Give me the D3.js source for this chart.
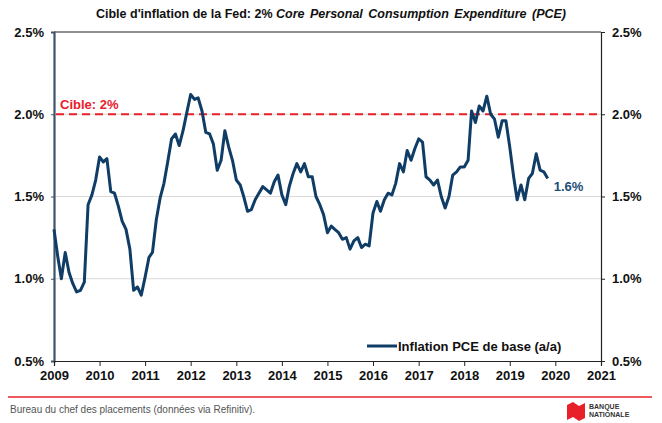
<!DOCTYPE html>
<html>
<head>
<meta charset="utf-8">
<script src="https://cdn.jsdelivr.net/npm/d3@7"></script>
<style>
  body { margin: 0; background: #fff; }
  svg { display: block; font-family: "Liberation Sans", Arial, sans-serif; }
</style>
</head>
<body>
<svg id="chart" width="662" height="423"></svg>
<script>
// Core PCE, a/a %, monthly from Jan 2009
const startMonth = new Date(2009, 0, 1);
const pce = [
  1.30, 1.13, 1.00, 1.16, 1.04, 0.97, 0.92, 0.93, 0.98, 1.45, 1.51, 1.60,
  1.74, 1.71, 1.73, 1.53, 1.52, 1.44, 1.35, 1.30, 1.18, 0.93, 0.95, 0.90,
  1.01, 1.13, 1.16, 1.36, 1.49, 1.58, 1.71, 1.85, 1.88, 1.81, 1.90, 2.01,
  2.12, 2.09, 2.10, 2.02, 1.89, 1.88, 1.82, 1.66, 1.72, 1.90, 1.80, 1.72,
  1.60, 1.57, 1.50, 1.41, 1.42, 1.48, 1.52, 1.56, 1.54, 1.52, 1.59, 1.63,
  1.51, 1.45, 1.56, 1.64, 1.70, 1.65, 1.70, 1.62, 1.62, 1.50, 1.45, 1.39,
  1.28, 1.32, 1.30, 1.28, 1.24, 1.25, 1.18, 1.23, 1.25, 1.19, 1.21, 1.20,
  1.40, 1.47, 1.41, 1.48, 1.52, 1.51, 1.58, 1.70, 1.65, 1.78, 1.72, 1.79,
  1.85, 1.83, 1.62, 1.60, 1.57, 1.60, 1.50, 1.43, 1.50, 1.63, 1.65, 1.68,
  1.68, 1.72, 2.02, 1.95, 2.05, 2.02, 2.11, 2.00, 1.97, 1.86, 1.96, 1.96,
  1.80, 1.62, 1.48, 1.57, 1.48, 1.61, 1.64, 1.76, 1.66, 1.65, 1.61
];
const yearTicks = d3.range(2009, 2022);
const yTicks = [0.5, 1.0, 1.5, 2.0, 2.5];
const target = 2.0;

const svg = d3.select("#chart");
const mLeft = 54, mRight = 601, mTop = 32, mBottom = 361;

const x = d3.scaleTime()
  .domain([new Date(2009, 0, 1), new Date(2021, 0, 1)])
  .range([mLeft, mRight]);
const y = d3.scaleLinear().domain([0.5, 2.5]).range([mBottom, mTop]);

const data = pce.map((v, i) => ({ date: d3.timeMonth.offset(startMonth, i), v }));

// title
const title = svg.append("text")
  .attr("x", 331).attr("y", 18)
  .attr("text-anchor", "middle")
  .attr("font-size", 12.5).attr("font-weight", "bold").attr("fill", "#111");
title.append("tspan").text("Cible d'inflation de la Fed: 2% ");
title.append("tspan").attr("font-style", "italic").attr("word-spacing", 2)
  .text("Core Personal Consumption Expenditure (PCE)");

// gridlines
svg.append("g").selectAll("line")
  .data(yTicks.filter(d => d > 0.5 && d < 2.5))
  .join("line")
  .attr("x1", mLeft).attr("x2", mRight)
  .attr("y1", d => y(d)).attr("y2", d => y(d))
  .attr("stroke", "#d9d9d9").attr("stroke-width", 1);

// frame top
svg.append("line")
  .attr("x1", mLeft).attr("x2", mRight).attr("y1", mTop).attr("y2", mTop)
  .attr("stroke", "#222").attr("stroke-width", 1.2);

const fmt = d => d.toFixed(1) + "%";

// left axis
const gL = svg.append("g").attr("transform", `translate(${mLeft},0)`)
  .call(d3.axisLeft(y).tickValues(yTicks).tickFormat(fmt).tickSize(3).tickPadding(7));
gL.select(".domain").attr("stroke", "#3e5469").attr("stroke-width", 2.2);
gL.selectAll(".tick line").attr("stroke", "#3e5469");

// right axis
const gR = svg.append("g").attr("transform", `translate(${mRight},0)`)
  .call(d3.axisRight(y).tickValues(yTicks).tickFormat(fmt).tickSize(4).tickPadding(7));
gR.select(".domain").attr("stroke", "#222").attr("stroke-width", 1.2);
gR.selectAll(".tick line").attr("stroke", "#222");

// bottom axis
const gB = svg.append("g").attr("transform", `translate(0,${mBottom})`)
  .call(d3.axisBottom(x).tickValues(yearTicks.map(yr => new Date(yr, 0, 1)))
    .tickFormat(d3.timeFormat("%Y")).tickSize(5).tickPadding(5));
gB.select(".domain").attr("stroke", "#222").attr("stroke-width", 1.2);
gB.selectAll(".tick line").attr("stroke", "#222");

svg.selectAll(".tick text")
  .attr("font-family", "Liberation Sans, Arial, sans-serif")
  .attr("font-size", 13).attr("font-weight", "bold").attr("fill", "#111");

// target line
svg.append("line")
  .attr("x1", mLeft + 2).attr("x2", mRight)
  .attr("y1", y(target)).attr("y2", y(target))
  .attr("stroke", "#e8202a").attr("stroke-width", 2.2)
  .attr("stroke-dasharray", "8,5");
svg.append("text")
  .attr("x", 60).attr("y", y(target) - 5)
  .attr("font-size", 13).attr("font-weight", "bold").attr("fill", "#e8202a")
  .text("Cible: 2%");

// series
const line = d3.line().x(d => x(d.date)).y(d => y(d.v));
svg.append("path").datum(data)
  .attr("d", line)
  .attr("fill", "none").attr("stroke", "#0f3d66").attr("stroke-width", 3)
  .attr("stroke-linejoin", "round");

const last = data[data.length - 1];
svg.append("text")
  .attr("x", x(last.date) + 6).attr("y", y(last.v) + 13)
  .attr("font-size", 13).attr("font-weight", "bold").attr("fill", "#1e4d78")
  .text(fmt(last.v));

// legend
svg.append("line")
  .attr("x1", 367).attr("x2", 397).attr("y1", 346).attr("y2", 346)
  .attr("stroke", "#0f3d66").attr("stroke-width", 3);
svg.append("text")
  .attr("x", 398).attr("y", 351)
  .attr("font-size", 13).attr("font-weight", "bold").attr("fill", "#111")
  .text("Inflation PCE de base (a/a)");

// footer
svg.append("line")
  .attr("x1", 8).attr("x2", 652).attr("y1", 397).attr("y2", 397)
  .attr("stroke", "#e8202a").attr("stroke-width", 1.5);
svg.append("text")
  .attr("x", 10).attr("y", 413)
  .attr("font-size", 10).attr("fill", "#555")
  .text("Bureau du chef des placements (données via Refinitiv).");

// logo
const logo = svg.append("g").attr("transform", "translate(567,402)");
logo.append("path")
  .attr("d", "M0,3 L6,0 L12,4 L18,1 L18,16 L12,19 L6,15 L0,18 Z")
  .attr("fill", "#e8202a");
logo.append("text").attr("x", 22).attr("y", 7)
  .attr("font-size", 7).attr("font-weight", "bold").attr("fill", "#333").text("BANQUE");
logo.append("text").attr("x", 22).attr("y", 15)
  .attr("font-size", 7).attr("font-weight", "bold").attr("fill", "#333").text("NATIONALE");
</script>
</body>
</html>
